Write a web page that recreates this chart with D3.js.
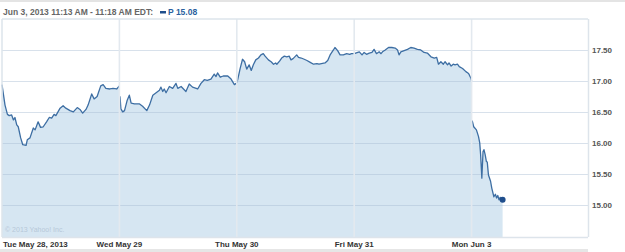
<!DOCTYPE html>
<html>
<head>
<meta charset="utf-8">
<script src="https://cdn.jsdelivr.net/npm/d3@7"></script>
<style>
  body { margin: 0; background: #fff; }
  svg { display: block; font-family: "Liberation Sans", Arial, sans-serif; }
</style>
</head>
<body>
<div id="chart"></div>
<script>
// Data: [minutes since 9:30 open, price] per trading day
const tueMay28 = [[0,16.94],[10,16.61],[18,16.46],[24,16.44],[32,16.45],[38,16.37],[43,16.41],[49,16.29],[54,16.26],[62,16.08],[69,15.97],[80,15.96],[84,16.05],[93,16.08],[104,16.24],[110,16.21],[120,16.34],[128,16.25],[137,16.26],[148,16.34],[157,16.41],[165,16.40],[173,16.46],[179,16.44],[193,16.56],[203,16.60],[212,16.56],[226,16.52],[237,16.50],[250,16.57],[259,16.54],[268,16.48],[279,16.54],[286,16.61],[298,16.79],[306,16.71],[316,16.75],[328,16.92],[336,16.94],[345,16.88],[358,16.87],[369,16.88],[381,16.87],[390,16.92]];
const wedMay29 = [[2,16.75],[5,16.55],[11,16.50],[17,16.52],[26,16.69],[33,16.77],[39,16.64],[50,16.63],[66,16.63],[77,16.59],[91,16.52],[100,16.61],[111,16.77],[122,16.81],[133,16.85],[138,16.90],[144,16.83],[149,16.87],[155,16.81],[166,16.91],[177,16.88],[188,16.96],[194,16.88],[205,16.91],[221,16.83],[232,16.95],[243,16.90],[260,16.87],[271,16.96],[282,17.02],[292,17.01],[304,17.03],[315,17.11],[321,17.07],[326,17.13],[335,17.06],[345,17.08],[360,17.08],[371,17.03],[382,16.94],[388,16.96]];
const thuMay30 = [[0,16.97],[3,17.02],[11,17.20],[19,17.35],[26,17.31],[33,17.19],[41,17.26],[48,17.17],[55,17.26],[63,17.34],[72,17.37],[80,17.42],[88,17.44],[94,17.40],[105,17.34],[114,17.31],[122,17.27],[129,17.29],[133,17.27],[142,17.32],[149,17.37],[158,17.40],[166,17.39],[174,17.40],[180,17.34],[187,17.36],[199,17.42],[205,17.38],[214,17.37],[224,17.35],[233,17.33],[244,17.30],[255,17.27],[266,17.28],[273,17.27],[281,17.28],[293,17.29],[302,17.33],[310,17.42],[321,17.50],[326,17.54],[335,17.49],[343,17.42],[354,17.42],[365,17.44],[375,17.43],[381,17.44],[390,17.44]];
const friMay31 = [[0,17.44],[17,17.47],[26,17.42],[33,17.46],[41,17.43],[50,17.45],[59,17.46],[66,17.51],[74,17.44],[83,17.47],[89,17.44],[94,17.47],[103,17.50],[114,17.54],[125,17.54],[136,17.53],[144,17.50],[149,17.42],[155,17.47],[166,17.49],[177,17.51],[188,17.54],[199,17.53],[210,17.51],[221,17.50],[232,17.46],[243,17.45],[255,17.39],[266,17.37],[274,17.38],[280,17.27],[288,17.31],[296,17.27],[302,17.31],[310,17.26],[315,17.29],[322,17.24],[329,17.27],[335,17.26],[343,17.27],[349,17.23],[360,17.20],[371,17.15],[380,17.12],[388,17.04],[390,17.00]];
const monJun3 = [[2,16.36],[7,16.26],[16,16.21],[23,16.10],[27,16.00],[30,15.81],[34,15.43],[38,15.86],[41,15.89],[45,15.81],[49,15.70],[52,15.69],[56,15.48],[63,15.38],[67,15.27],[74,15.13],[79,15.17],[83,15.11],[87,15.15],[91,15.08],[95,15.12],[101,15.06],[103,15.08]];

const days = [tueMay28, wedMay29, thuMay30, friMay31, monJun3];
const dayLabels = ["Tue May 28, 2013", "Wed May 29", "Thu May 30", "Fri May 31", "Mon Jun 3"];
const yTicks = [15, 15.5, 16, 16.5, 17, 17.5];
const headerText = "Jun 3, 2013 11:13 AM - 11:18 AM EDT:";
const symbol = "P";
const lastPrice = 15.08;

const colors = {
    line: "#3d6ea3",
    fill: "#d6e6f2",
    grid: "#a9bdd2",
    vgrid: "#e3e9ef",
    marker: "#1f4e8c",
    text: "#555555"
};

const width = 625, height = 252;
const plot = { left: 2, right: 589, top: 19, bottom: 237 };
const minutesPerDay = 390;

const svg = d3.select("#chart").append("svg")
    .attr("width", width)
    .attr("height", height);

const x = d3.scaleLinear()
    .domain([0, days.length])
    .range([plot.left, plot.right]);

const y = d3.scaleLinear()
    .domain([14.48, 18])
    .range([plot.bottom, plot.top]);

const px = (dayIdx, d) => x(dayIdx + d[0] / minutesPerDay);

// top and bottom grey strips
svg.append("rect").attr("x", 0).attr("y", 0).attr("width", width).attr("height", 2).attr("fill", "#e4e4e4");
svg.append("rect").attr("x", 0).attr("y", 249).attr("width", 588).attr("height", 3).attr("fill", "#e6e6e6");

// Area fills per day
const area = d3.area()
    .x(d => d.x)
    .y0(y.range()[0])
    .y1(d => y(d.p));

days.forEach((day, i) => {
    const pts = day.map(d => ({ x: px(i, d), p: d[1] }));
    // extend fill to the start of day so the areas join
    const filled = [{ x: x(i), p: day[0][1] }, ...pts];
    if (i < days.length - 1) filled.push({ x: x(i + 1), p: day[day.length - 1][1] });
    svg.append("path")
        .datum(filled)
        .attr("fill", colors.fill)
        .attr("d", area);
});

// Horizontal gridlines
svg.append("g")
    .selectAll("line")
    .data(yTicks)
    .join("line")
    .attr("x1", plot.left)
    .attr("x2", 588)
    .attr("y1", d => Math.round(y(d)) + 0.5)
    .attr("y2", d => Math.round(y(d)) + 0.5)
    .attr("stroke", colors.grid)
    .attr("stroke-opacity", 0.45)
    .attr("stroke-width", 1.2);

// Price line, one path per day
const line = d3.line()
    .x(d => d.x)
    .y(d => y(d.p));

days.forEach((day, i) => {
    svg.append("path")
        .datum(day.map(d => ({ x: px(i, d), p: d[1] })))
        .attr("fill", "none")
        .attr("stroke", colors.line)
        .attr("stroke-width", 1.3)
        .attr("stroke-linejoin", "round")
        .attr("d", line);
});

// Vertical day gridlines, drawn over the fill
svg.append("g")
    .selectAll("line")
    .data(d3.range(1, days.length))
    .join("line")
    .attr("x1", d => x(d))
    .attr("x2", d => x(d))
    .attr("y1", plot.top)
    .attr("y2", plot.bottom)
    .attr("stroke", colors.vgrid)
    .attr("stroke-width", 1.6);

// Plot border
svg.append("line").attr("x1", plot.left).attr("x2", 588).attr("y1", plot.top).attr("y2", plot.top)
    .attr("stroke", "#dde4eb").attr("stroke-width", 1.5);
svg.append("line").attr("x1", plot.left).attr("x2", 588).attr("y1", plot.bottom + 0.5).attr("y2", plot.bottom + 0.5)
    .attr("stroke", "#dde4eb").attr("stroke-width", 1.5);
svg.append("line").attr("x1", plot.left).attr("x2", plot.left).attr("y1", plot.top).attr("y2", plot.bottom)
    .attr("stroke", "#dde4eb").attr("stroke-width", 1.5);
svg.append("line").attr("x1", 588.5).attr("x2", 588.5).attr("y1", plot.top).attr("y2", plot.bottom)
    .attr("stroke", "#dde4eb").attr("stroke-width", 1.5);

// Last price marker
const lastDay = days[days.length - 1];
const lastPt = lastDay[lastDay.length - 1];
svg.append("circle")
    .attr("cx", px(days.length - 1, lastPt))
    .attr("cy", y(lastPt[1]))
    .attr("r", 3)
    .attr("fill", colors.marker);

// Y axis labels on the right
svg.append("g")
    .selectAll("text")
    .data(yTicks)
    .join("text")
    .attr("x", 592)
    .attr("y", d => y(d) + 3)
    .style("font-size", "8px")
    .style("font-weight", "bold")
    .attr("fill", colors.text)
    .text(d => d3.format(".2f")(d));

// X axis labels
svg.append("g")
    .selectAll("text")
    .data(dayLabels)
    .join("text")
    .attr("x", (d, i) => i === 0 ? 3 : x(i))
    .attr("y", 247)
    .attr("text-anchor", (d, i) => i === 0 ? "start" : "middle")
    .style("font-size", "8px")
    .style("font-weight", "bold")
    .attr("fill", "#333")
    .text(d => d);

// Copyright
svg.append("text")
    .attr("x", 5)
    .attr("y", 232)
    .style("font-size", "7px")
    .attr("fill", "#b7c8d9")
    .text("\u00a9 2013 Yahoo! Inc.");

// Header with legend
svg.append("text")
    .attr("x", 3)
    .attr("y", 15)
    .style("font-size", "8.5px")
    .style("font-weight", "bold")
    .attr("fill", "#666")
    .text(headerText);

svg.append("rect")
    .attr("x", 160).attr("y", 11).attr("width", 6).attr("height", 2.5)
    .attr("fill", colors.marker);

svg.append("text")
    .attr("x", 168)
    .attr("y", 15)
    .style("font-size", "8.5px")
    .style("font-weight", "bold")
    .attr("fill", "#2b5f9e")
    .text(`${symbol} ${d3.format(".2f")(lastPrice)}`);
</script>
</body>
</html>
